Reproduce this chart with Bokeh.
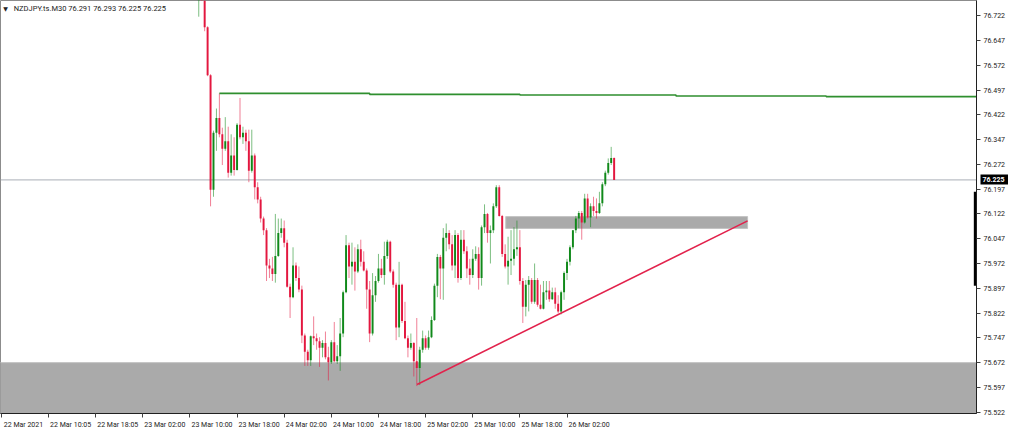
from bokeh.plotting import figure
from bokeh.models import (Range1d, FixedTicker, Span, Label, ColumnDataSource,
                          PrintfTickFormatter, LinearAxis)
from bokeh.embed import file_html
from bokeh.resources import INLINE

# ---------------- data ----------------
symbol_title = "NZDJPY.ts.M30  76.291 76.293 76.225 76.225"
first_bar = 67  # bar index (M30 bars counted from 22 Mar 2021 00:00 on the chart)

opens = [
    76.780, 76.830, 76.800, 76.687, 76.542, 76.195, 76.368, 76.412, 76.363, 76.319,
    76.342, 76.247, 76.299, 76.255, 76.392, 76.354, 76.368, 76.342, 76.253, 76.299,
    76.203, 76.166, 76.108, 76.073, 75.966, 75.957, 75.940, 75.995, 76.064, 76.079,
    76.035, 75.902, 75.870, 75.966, 75.928, 75.893, 75.754, 75.705, 75.679, 75.752,
    75.746, 75.737, 75.717, 75.731, 75.688, 75.673, 75.734, 75.676, 75.691, 75.760,
    75.885, 76.027, 75.963, 75.977, 75.948, 76.015, 75.977, 75.951, 75.893, 75.760,
    75.876, 75.919, 75.957, 75.937, 75.995, 76.038, 75.948, 75.908, 75.778, 75.908,
    75.798, 75.746, 75.717, 75.731, 75.676, 75.656, 75.711, 75.746, 75.717, 75.749,
    75.801, 75.905, 75.992, 75.957, 76.050, 76.064, 76.030, 75.966, 76.058, 75.928,
    76.044, 76.009, 75.957, 75.937, 75.986, 76.001, 75.928, 76.082, 76.122, 76.064,
    76.073, 76.145, 76.203, 76.116, 76.001, 75.963, 75.980, 75.986, 76.015, 76.021,
    75.919, 75.841, 75.908, 75.922, 75.856, 75.922, 75.847, 75.835, 75.885, 75.890,
    75.864, 75.885, 75.850, 75.827, 75.885, 75.943, 75.977, 76.021, 76.073, 76.108,
    76.125, 76.096, 76.169, 76.111, 76.145, 76.131, 76.125, 76.154, 76.212, 76.247,
    76.276, 76.291,
]
highs = [
    76.850, 76.845, 76.810, 76.690, 76.545, 76.374, 76.441, 76.487, 76.383, 76.415,
    76.386, 76.363, 76.354, 76.397, 76.473, 76.386, 76.377, 76.377, 76.377, 76.305,
    76.218, 76.174, 76.114, 76.079, 75.986, 75.992, 76.122, 76.108, 76.108, 76.102,
    76.044, 75.911, 76.021, 75.975, 75.963, 75.905, 75.760, 75.711, 75.754, 75.812,
    75.760, 75.749, 75.740, 75.766, 75.720, 75.740, 75.795, 75.725, 75.807, 75.890,
    76.058, 76.035, 76.035, 76.021, 76.030, 76.044, 76.009, 75.957, 75.919, 75.943,
    75.934, 76.001, 75.986, 76.038, 76.044, 76.041, 75.954, 75.914, 75.977, 75.911,
    75.856, 75.754, 75.760, 75.734, 75.807, 75.720, 75.769, 75.754, 75.769, 75.812,
    75.911, 76.001, 75.998, 76.079, 76.093, 76.073, 76.058, 76.073, 76.064, 76.073,
    76.073, 76.024, 75.986, 76.015, 76.024, 76.021, 76.087, 76.151, 76.125, 76.087,
    76.154, 76.209, 76.209, 76.119, 76.030, 76.053, 76.073, 76.082, 76.102, 76.073,
    75.928, 75.922, 75.934, 75.928, 75.972, 75.928, 75.908, 75.919, 75.919, 75.919,
    75.899, 75.899, 75.876, 75.890, 75.948, 75.986, 76.027, 76.073, 76.116, 76.131,
    76.131, 76.183, 76.183, 76.154, 76.174, 76.169, 76.189, 76.218, 76.253, 76.290,
    76.325, 76.293,
]
lows = [
    76.719, 76.790, 76.675, 76.539, 76.145, 76.174, 76.313, 76.354, 76.270, 76.313,
    76.232, 76.238, 76.238, 76.253, 76.348, 76.334, 76.313, 76.218, 76.247, 76.166,
    76.154, 76.096, 76.058, 75.919, 75.928, 75.919, 75.914, 75.992, 76.050, 76.021,
    75.899, 75.807, 75.867, 75.919, 75.885, 75.731, 75.662, 75.662, 75.662, 75.725,
    75.711, 75.659, 75.688, 75.682, 75.618, 75.668, 75.673, 75.668, 75.647, 75.749,
    75.882, 75.928, 75.908, 75.890, 75.943, 75.963, 75.948, 75.835, 75.734, 75.754,
    75.856, 75.914, 75.928, 75.908, 75.986, 75.943, 75.899, 75.740, 75.749, 75.792,
    75.743, 75.688, 75.711, 75.630, 75.601, 75.604, 75.702, 75.711, 75.711, 75.746,
    75.798, 75.870, 75.864, 75.862, 76.009, 76.015, 75.951, 75.928, 75.914, 75.922,
    76.001, 75.928, 75.908, 75.928, 75.980, 75.893, 75.905, 76.064, 76.035, 75.972,
    76.064, 76.140, 76.114, 75.992, 75.957, 75.908, 75.937, 75.966, 75.995, 75.908,
    75.792, 75.812, 75.827, 75.850, 75.850, 75.841, 75.833, 75.833, 75.862, 75.856,
    75.862, 75.835, 75.821, 75.818, 75.862, 75.922, 75.966, 76.015, 76.064, 76.079,
    76.044, 76.093, 76.108, 76.082, 76.116, 76.108, 76.122, 76.145, 76.206, 76.241,
    76.270, 76.225,
]
closes = [
    76.830, 76.800, 76.687, 76.542, 76.195, 76.368, 76.412, 76.363, 76.319, 76.342,
    76.247, 76.299, 76.255, 76.392, 76.354, 76.368, 76.342, 76.253, 76.299, 76.203,
    76.166, 76.108, 76.073, 75.966, 75.957, 75.940, 75.995, 76.064, 76.079, 76.035,
    75.902, 75.870, 75.966, 75.928, 75.893, 75.754, 75.705, 75.679, 75.752, 75.746,
    75.737, 75.717, 75.731, 75.688, 75.673, 75.734, 75.676, 75.691, 75.760, 75.885,
    76.027, 75.963, 75.977, 75.948, 76.015, 75.977, 75.951, 75.893, 75.760, 75.876,
    75.919, 75.957, 75.937, 75.995, 76.038, 75.948, 75.908, 75.778, 75.908, 75.798,
    75.746, 75.717, 75.731, 75.676, 75.656, 75.711, 75.746, 75.717, 75.749, 75.801,
    75.905, 75.992, 75.957, 76.050, 76.064, 76.030, 75.966, 76.058, 75.928, 76.044,
    76.009, 75.957, 75.937, 75.986, 76.001, 75.928, 76.082, 76.122, 76.064, 76.073,
    76.145, 76.203, 76.116, 76.001, 75.963, 75.980, 75.986, 76.015, 76.021, 75.919,
    75.841, 75.908, 75.922, 75.856, 75.922, 75.847, 75.835, 75.885, 75.890, 75.864,
    75.885, 75.850, 75.827, 75.885, 75.943, 75.977, 76.021, 76.073, 76.108, 76.125,
    76.096, 76.169, 76.111, 76.145, 76.131, 76.125, 76.154, 76.212, 76.247, 76.276,
    76.291, 76.225,
]

time_labels = ["22 Mar 2021", "22 Mar 10:05", "22 Mar 18:05", "23 Mar 02:00",
               "23 Mar 10:00", "23 Mar 18:00", "24 Mar 02:00", "24 Mar 10:00",
               "24 Mar 18:00", "25 Mar 02:00", "25 Mar 10:00", "25 Mar 18:00",
               "26 Mar 02:00"]
time_label_bars = [0, 16, 32, 48, 64, 80, 96, 112, 128, 144, 160, 176, 192]

price_ticks = [76.722, 76.647, 76.572, 76.497, 76.422, 76.347, 76.272, 76.197,
               76.122, 76.047, 75.972, 75.897, 75.822, 75.747, 75.672, 75.597, 75.522]

current_price = 76.225

# horizontal level (green), drawn from bar 74 to the right edge
level_bars = [74, 125, 176, 229, 280, 331]
level_prices = [76.487, 76.484, 76.482, 76.479, 76.477, 76.477]

# zones
support_zone_top = 75.672
support_zone_bottom = 75.40
resist_zone_bars = [171.2, 253.3]
resist_zone_prices = [76.078, 76.114]

# rising trend line
trend_bars = [141.1, 253.3]
trend_prices = [75.606, 76.101]

# marker on the price scale
scale_marker = [76.189, 75.905]

# ---------------- figure ----------------
UP = "#10891a"
DOWN = "#e3173f"
FONT = "Roboto"
FS = "7px"

n = len(opens)
bars = [first_bar + k for k in range(n)]
up = [c >= o for o, c in zip(opens, closes)]

def subset(flag):
    idx = [k for k in range(n) if up[k] == flag]
    return ColumnDataSource(dict(
        x=[bars[k] for k in idx],
        top=[max(opens[k], closes[k]) for k in idx],
        bottom=[min(opens[k], closes[k]) for k in idx],
        high=[highs[k] for k in idx],
        low=[lows[k] for k in idx],
    ))

src_up = subset(True)
src_dn = subset(False)

p = figure(width=1008, height=431, output_backend="svg", toolbar_location=None,
           x_range=Range1d(-0.3, 331), y_range=Range1d(75.518, 76.768),
           y_axis_location="right", tools="")
p.min_border_left = 0
p.min_border_top = 0
p.min_border_right = 0
p.min_border_bottom = 0
p.background_fill_color = "white"
p.border_fill_color = "white"
p.outline_line_color = "#8c8c8c"
p.xgrid.visible = False
p.ygrid.visible = False

# zones (background)
p.quad(left=[-1], right=[332], bottom=[support_zone_bottom], top=[support_zone_top],
       fill_color="#aaaaaa", line_color="#c4c4c4", line_width=1)
p.quad(left=[resist_zone_bars[0]], right=[resist_zone_bars[1]],
       bottom=[resist_zone_prices[0]], top=[resist_zone_prices[1]],
       fill_color="#aaaaaa", line_color="#c4c4c4", line_width=1)

# current price line
p.add_layout(Span(location=current_price, dimension="width", line_color="#a9aeb6",
                  line_width=1, level="underlay"))

# candles
for src, col in ((src_up, UP), (src_dn, DOWN)):
    p.segment(x0="x", y0="low", x1="x", y1="high", source=src, line_color=col,
              line_width=1, line_alpha=0.55)
    p.vbar(x="x", width=0.66, top="top", bottom="bottom", source=src,
           fill_color=col, line_color=None)

# level and trend lines
p.step(level_bars, level_prices, mode="after", line_color="#2f8f2f", line_width=1.6)
p.line(trend_bars, trend_prices, line_color="#e2224c", line_width=1.6)

# marker on price scale
p.segment(x0=[330.6], y0=[scale_marker[0]], x1=[330.6], y1=[scale_marker[1]],
          line_color="black", line_width=3)

# axes
xa = p.xaxis[0]
label_centers = [b + 7.5 for b in time_label_bars]
xa.ticker = FixedTicker(ticks=label_centers, minor_ticks=time_label_bars)
xa.major_label_overrides = {c: t for c, t in zip(label_centers, time_labels)}
xa.major_tick_in = 0
xa.major_tick_out = 0
xa.minor_tick_in = 0
xa.minor_tick_out = 4
xa.minor_tick_line_color = "#404040"
xa.major_label_standoff = 3
xa.major_label_text_font = FONT
xa.major_label_text_font_size = FS
xa.major_label_text_color = "#222222"
xa.axis_line_color = "#202020"

ya = p.yaxis[0]
ya.ticker = FixedTicker(ticks=price_ticks, minor_ticks=[])
ya.formatter = PrintfTickFormatter(format="%.3f")
ya.major_tick_in = 0
ya.major_tick_out = 4
ya.minor_tick_in = 0
ya.minor_tick_out = 0
ya.major_tick_line_color = "#404040"
ya.major_label_standoff = 3
ya.major_label_text_font = FONT
ya.major_label_text_font_size = FS
ya.major_label_text_color = "#222222"
ya.axis_line_color = "#202020"

# current price tag: a second right-hand scale whose single tick is drawn back
# over the price scale as a black box, with its label in white on top
tag = LinearAxis(ticker=FixedTicker(ticks=[current_price], minor_ticks=[]),
                 formatter=PrintfTickFormatter(format="%.3f"))
tag.axis_line_color = None
tag.major_tick_in = 28
tag.major_tick_out = 1
tag.major_tick_line_color = "black"
tag.major_tick_line_width = 10
tag.minor_tick_in = 0
tag.minor_tick_out = 0
tag.major_label_standoff = -27
tag.major_label_text_font = FONT
tag.major_label_text_font_size = FS
tag.major_label_text_font_style = "bold"
tag.major_label_text_color = "white"
p.add_layout(tag, "right")

# title
p.add_layout(Label(x=0.6, y=76.744, text="▼", text_font="DejaVu Sans", text_font_size="6px",
                   text_baseline="middle", text_color="#222222"))
p.add_layout(Label(x=4.2, y=76.744, text=symbol_title, text_font=FONT,
                   text_font_size="7.5px", text_baseline="middle", text_color="#222222"))

open("out.html", "w").write(file_html(p, INLINE))
